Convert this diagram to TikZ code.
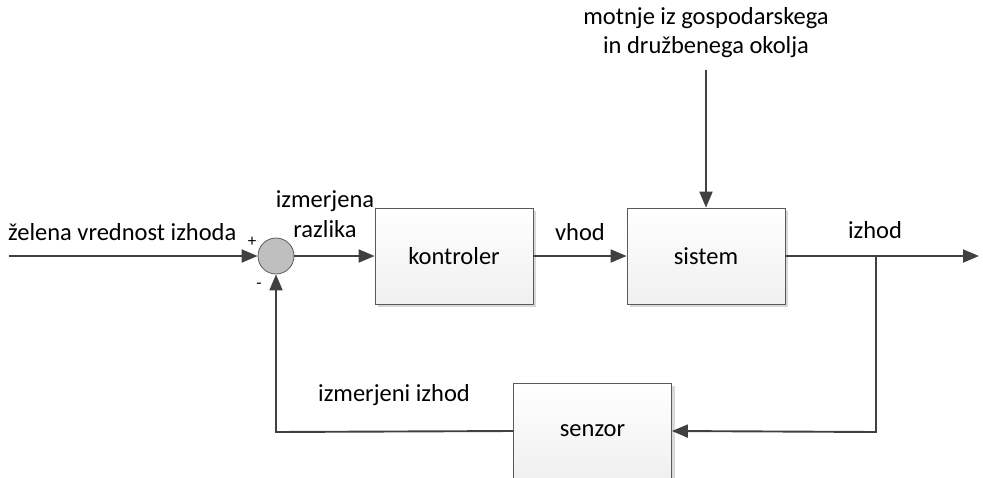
\documentclass[tikz,border=0pt]{standalone}
\usepackage{fontspec}
\setmainfont{Carlito}
\usetikzlibrary{arrows.meta,shadows}
\definecolor{linec}{HTML}{404040}
\definecolor{boxc}{HTML}{5A5A5A}
\tikzset{
  conn/.style={draw=linec, line width=1.9pt, -{Triangle[length=16pt,width=13pt]}},
  blockbox/.style={draw=boxc, line width=0.8pt, minimum width=158pt, minimum height=96pt,
    top color=white, bottom color=gray!12, font=\fontsize{24.5}{28}\selectfont,
    drop shadow={shadow xshift=3pt, shadow yshift=-3pt, fill=gray!30, opacity=1}},
  lbl/.style={font=\fontsize{24.5}{28}\selectfont, inner sep=0pt},
  sgn/.style={font=\fontsize{17}{19}\selectfont, inner sep=0pt}
}
\begin{document}
\begin{tikzpicture}[x=1pt,y=-1pt]
\useasboundingbox (0,0) rectangle (983,477);
\node[blockbox] (kon) at (454,256) {kontroler\hspace{20pt}};
\node[blockbox] (sis) at (706,256) {sistem};
\node[blockbox] (sen) at (592.5,431) {senzor};
\node[circle, draw=boxc, fill=gray!50, line width=0.8pt, minimum size=36pt, inner sep=0pt] (sum) at (276,256) {};
\coordinate (in) at (9,256);
\coordinate (out) at (979,256);
\coordinate (br) at (876,256);
\coordinate (brd) at (876,432);
\coordinate (fbl) at (276,432);
\coordinate (dist) at (706,70);
\draw[conn] (in) -- (sum.west);
\draw[conn] (sum.east) -- (kon.west);
\draw[conn] (kon.east) -- (sis.west);
\draw[conn] (sis.east) -- (out);
\draw[conn] (br) -- (brd) -- (sen.east);
\draw[conn] (sen.west) -- (fbl) -- (sum.south);
\draw[conn] (dist) -- (sis.north);
\node[lbl] (t1) at (706,18) {motnje iz gospodarskega};
\node[lbl] (t2) at (706,47) {in družbenega okolja};
\node[lbl, anchor=west] (t3) at (8,232) {želena vrednost izhoda};
\node[lbl] (t4) at (325,201) {izmerjena};
\node[lbl] (t5) at (325,229) {razlika};
\node[lbl] (t6) at (580,232) {vhod};
\node[lbl] (t7) at (875,230) {izhod};
\node[lbl] (t8) at (394,395) {izmerjeni izhod};
\node[sgn] (plus) at (252,242) {+};
\node[sgn] (minus) at (259,286) {-};
\end{tikzpicture}
\end{document}
